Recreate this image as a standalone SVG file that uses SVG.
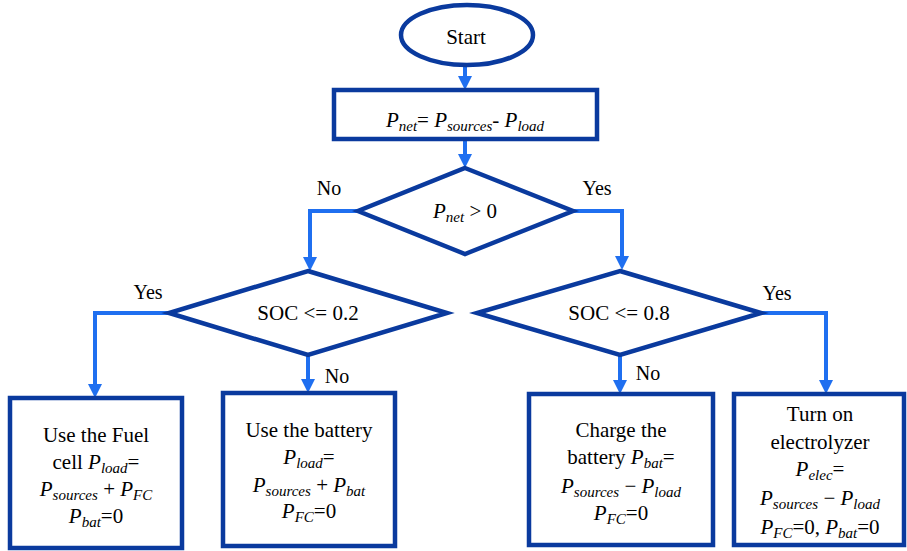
<svg xmlns="http://www.w3.org/2000/svg" width="907" height="551" viewBox="0 0 907 551">
<style>
.shape{fill:#fff;stroke:#0a3a9e;stroke-width:4.5}
.conn{fill:none;stroke:#1f6ff0;stroke-width:4}
.t{font-size:21px;fill:#000}
.c{text-anchor:middle}
.lbl{font-size:20px}
.m{font-style:italic;font-size:21px}
.s{font-style:italic;font-size:15px}
</style>
<defs>
<marker id="ah" markerUnits="userSpaceOnUse" markerWidth="14" markerHeight="14" viewBox="0 0 14 14" refX="2" refY="7" orient="auto">
<path d="M0,0 L14,7 L0,14 z" fill="#1f6ff0"/>
</marker>
</defs>
<g font-family="'Times New Roman', 'Liberation Serif', 'DejaVu Serif', Times, serif">
<g id="connectors">
<path class="conn" d="M465,65 V78" marker-end="url(#ah)"/>
<path class="conn" d="M465,139 V156" marker-end="url(#ah)"/>
<path class="conn" d="M358,211 H310 V259" marker-end="url(#ah)"/>
<path class="conn" d="M573,211 H622 V258" marker-end="url(#ah)"/>
<path class="conn" d="M169,313 H95 V386" marker-end="url(#ah)"/>
<path class="conn" d="M308,355 V381" marker-end="url(#ah)"/>
<path class="conn" d="M620,355 V382" marker-end="url(#ah)"/>
<path class="conn" d="M761,313 H826 V382" marker-end="url(#ah)"/>
<text class="t lbl c" x="329" y="195">No</text>
<text class="t lbl c" x="597" y="195">Yes</text>
<text class="t lbl c" x="148" y="299">Yes</text>
<text class="t lbl c" x="337" y="383">No</text>
<text class="t lbl c" x="777" y="300">Yes</text>
<text class="t lbl c" x="648" y="380">No</text>
</g>
<g id="start">
<ellipse class="shape" cx="467" cy="35" rx="66" ry="30"/>
<text class="t c" x="466" y="44">Start</text>
</g>
<g id="pnet">
<rect class="shape" x="334" y="90" width="263" height="49"/>
<text class="t c" x="465" y="127"><tspan class="m">P</tspan><tspan class="s" dy="4">net</tspan><tspan dy="-4">= </tspan><tspan class="m">P</tspan><tspan class="s" dy="4">sources</tspan><tspan dy="-4">- </tspan><tspan class="m">P</tspan><tspan class="s" dy="4">load</tspan></text>
</g>
<g id="dec1">
<polygon class="shape" points="465,168 573,211 465,254 358,211"/>
<text class="t c" x="465" y="218"><tspan class="m">P</tspan><tspan class="s" dy="4">net</tspan><tspan dy="-4"> &gt; 0</tspan></text>
</g>
<g id="dec2">
<polygon class="shape" points="308,271 447,313 308,355 169,313"/>
<text class="t c" x="308" y="320">SOC &lt;= 0.2</text>
</g>
<g id="dec3">
<polygon class="shape" points="620,271 761,313 620,355 477,313"/>
<text class="t c" x="619" y="320">SOC &lt;= 0.8</text>
</g>
<g id="box1">
<rect class="shape" x="10" y="398" width="172" height="150"/>
<text class="t c" x="96" y="442">Use the Fuel</text>
<text class="t c" x="96" y="469">cell <tspan class="m">P</tspan><tspan class="s" dy="4">load</tspan><tspan dy="-4">=</tspan></text>
<text class="t c" x="96" y="496"><tspan class="m">P</tspan><tspan class="s" dy="4">sources</tspan><tspan dy="-4"> + </tspan><tspan class="m">P</tspan><tspan class="s" dy="4">FC</tspan></text>
<text class="t c" x="96" y="523"><tspan class="m">P</tspan><tspan class="s" dy="4">bat</tspan><tspan dy="-4">=0</tspan></text>
</g>
<g id="box2">
<rect class="shape" x="223" y="393" width="172" height="153"/>
<text class="t c" x="309" y="437">Use the battery</text>
<text class="t c" x="309" y="464"><tspan class="m">P</tspan><tspan class="s" dy="4">load</tspan><tspan dy="-4">=</tspan></text>
<text class="t c" x="309" y="492"><tspan class="m">P</tspan><tspan class="s" dy="4">sources</tspan><tspan dy="-4"> + </tspan><tspan class="m">P</tspan><tspan class="s" dy="4">bat</tspan></text>
<text class="t c" x="309" y="518"><tspan class="m">P</tspan><tspan class="s" dy="4">FC</tspan><tspan dy="-4">=0</tspan></text>
</g>
<g id="box3">
<rect class="shape" x="529" y="394" width="184" height="151"/>
<text class="t c" x="621" y="437">Charge the</text>
<text class="t c" x="621" y="464">battery <tspan class="m">P</tspan><tspan class="s" dy="4">bat</tspan><tspan dy="-4">=</tspan></text>
<text class="t c" x="621" y="493"><tspan class="m">P</tspan><tspan class="s" dy="4">sources</tspan><tspan dy="-4"> − </tspan><tspan class="m">P</tspan><tspan class="s" dy="4">load</tspan></text>
<text class="t c" x="621" y="520"><tspan class="m">P</tspan><tspan class="s" dy="4">FC</tspan><tspan dy="-4">=0</tspan></text>
</g>
<g id="box4">
<rect class="shape" x="734" y="394" width="170" height="151"/>
<text class="t c" x="820" y="421">Turn on</text>
<text class="t c" x="820" y="449">electrolyzer</text>
<text class="t c" x="820" y="476"><tspan class="m">P</tspan><tspan class="s" dy="4">elec</tspan><tspan dy="-4">=</tspan></text>
<text class="t c" x="820" y="505"><tspan class="m">P</tspan><tspan class="s" dy="4">sources</tspan><tspan dy="-4"> − </tspan><tspan class="m">P</tspan><tspan class="s" dy="4">load</tspan></text>
<text class="t c" x="820" y="534"><tspan class="m">P</tspan><tspan class="s" dy="4">FC</tspan><tspan dy="-4">=0, </tspan><tspan class="m">P</tspan><tspan class="s" dy="4">bat</tspan><tspan dy="-4">=0</tspan></text>
</g>
</g>
</svg>
